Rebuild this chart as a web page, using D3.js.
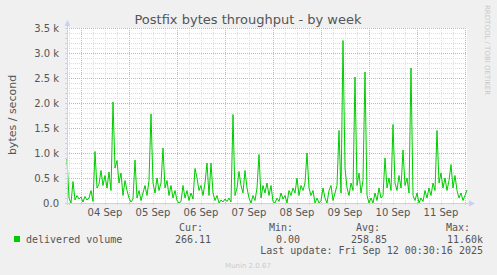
<!DOCTYPE html>
<html><head><meta charset="utf-8">
<script src="https://cdn.jsdelivr.net/npm/d3@7"></script>
<style>
body{margin:0;background:#F0F0F0;}
svg{display:block;}
</style></head>
<body>
<svg id="c" width="497" height="275"></svg>
<script>
// ---- data (hourly samples) ----
const startTime = new Date(2025, 8, 3, 17, 0, 0);
const stepHours = 1;
const deliveredVolume = [
 880,100,0,430,60,150,80,120,20,130,60,100,250,30,1030,300,380,650,350,550,
 300,620,250,2020,700,850,400,600,150,450,250,100,20,80,860,100,250,50,200,350,
 150,450,1780,400,200,500,250,400,1100,300,450,150,350,100,250,50,0,30,350,100,
 250,50,200,80,690,500,250,350,150,400,800,150,800,200,50,150,0,60,20,80,
 30,100,20,1770,150,300,630,350,200,650,300,100,0,150,50,300,970,100,350,200,
 400,150,350,30,0,100,30,200,80,150,0,250,150,300,200,500,150,350,250,400,
 1000,300,150,250,0,100,0,50,300,100,0,250,350,50,200,350,1450,200,3250,700,
 300,150,400,250,2520,350,600,200,450,2620,150,0,100,0,200,50,300,100,150,900,
 300,500,250,1570,400,250,550,300,1060,350,500,200,2700,150,50,200,0,100,30,250,
 100,300,150,400,250,1450,400,600,300,500,250,450,770,300,550,250,100,200,50,150,
 260
];
const yTicks = [0, 500, 1000, 1500, 2000, 2500, 3000, 3500];
const yTickLabels = ["0.0", "0.5 k", "1.0 k", "1.5 k", "2.0 k", "2.5 k", "3.0 k", "3.5 k"];
const legendLabels = ["Cur:", "Min:", "Avg:", "Max:"];
const legendValues = ["266.11", "0.00", "258.85", "11.60k"];
const seriesName = "delivered volume";
const titleText = "Postfix bytes throughput - by week";
const yAxisLabel = "bytes / second";
const lastUpdate = "Last update: Fri Sep 12 00:30:16 2025";

// ---- drawing ----
const svg = d3.select("#c");
const L = 67, R = 467, T = 28, B = 203;
const endTime = d3.timeHour.offset(startTime, (deliveredVolume.length - 1) * stepHours);
const x = d3.scaleTime().domain([startTime, endTime]).range([L, R]);
const y = d3.scaleLinear().domain([0, 3500]).range([B, T]);
const sans = "DejaVu Sans, sans-serif", mono = "DejaVu Sans Mono, monospace";

svg.append("rect").attr("x", L).attr("y", T).attr("width", R - L).attr("height", B - T).attr("fill", "#FFFFFF");

// minor grid
const minorY = d3.range(0, 3501, 100).filter(v => v % 500 !== 0);
svg.append("g").selectAll("line").data(minorY).join("line")
  .attr("x1", L).attr("x2", R).attr("y1", d => Math.round(y(d)) + 0.5).attr("y2", d => Math.round(y(d)) + 0.5)
  .attr("stroke", "#DDDDDD").attr("stroke-dasharray", "1,1");
const sixH = d3.timeHour.every(6).range(startTime, d3.timeMinute.offset(endTime, 1)).filter(d => d.getHours() !== 0);
svg.append("g").selectAll("line").data(sixH).join("line")
  .attr("y1", T).attr("y2", B).attr("x1", d => Math.round(x(d)) + 0.5).attr("x2", d => Math.round(x(d)) + 0.5)
  .attr("stroke", "#DDDDDD").attr("stroke-dasharray", "1,1");
// major grid
svg.append("g").selectAll("line").data(yTicks.slice(1)).join("line")
  .attr("x1", L).attr("x2", R).attr("y1", d => Math.round(y(d)) + 0.5).attr("y2", d => Math.round(y(d)) + 0.5)
  .attr("stroke", "#E8A8A8").attr("stroke-dasharray", "1,1");
const days = d3.timeDay.range(d3.timeDay.ceil(startTime), d3.timeMinute.offset(endTime, 1));
svg.append("g").selectAll("line").data(days).join("line")
  .attr("y1", T).attr("y2", B).attr("x1", d => Math.round(x(d)) + 0.5).attr("x2", d => Math.round(x(d)) + 0.5)
  .attr("stroke", "#E8A8A8").attr("stroke-dasharray", "1,1");

// axis ticks
const axisCol = "#C8D0F4";
svg.append("g").selectAll("line").data(d3.range(0, 3501, 100)).join("line")
  .attr("x1", L - 2).attr("x2", L).attr("y1", d => Math.round(y(d)) + 0.5).attr("y2", d => Math.round(y(d)) + 0.5)
  .attr("stroke", axisCol);
svg.append("g").selectAll("line").data(d3.timeHour.every(6).range(startTime, endTime)).join("line")
  .attr("y1", B).attr("y2", B + 2).attr("x1", d => Math.round(x(d)) + 0.5).attr("x2", d => Math.round(x(d)) + 0.5)
  .attr("stroke", axisCol);

// y labels
svg.append("g").selectAll("text").data(yTicks).join("text")
  .attr("x", 59).attr("y", d => y(d) + 4).attr("text-anchor", "end")
  .attr("font-family", sans).attr("font-size", 10).attr("fill", "#555")
  .text((d, i) => yTickLabels[i]);
// x labels at noon
const noons = days.map(d => d3.timeHour.offset(d, 12)).filter(d => d < endTime);
svg.append("g").selectAll("text").data(noons).join("text")
  .attr("x", d => x(d)).attr("y", 216).attr("text-anchor", "middle")
  .attr("font-family", sans).attr("font-size", 10).attr("fill", "#555")
  .text(d3.timeFormat("%d %b"));

// series line
const line = d3.line().x((d, i) => x(d3.timeHour.offset(startTime, i * stepHours))).y(d => y(d));
svg.append("path").datum(deliveredVolume).attr("d", line)
  .attr("fill", "none").attr("stroke", "#00CC00").attr("stroke-width", 1).attr("stroke-linejoin", "miter");

// axes lines with arrows
svg.append("line").attr("x1", L + 0.5).attr("x2", L + 0.5).attr("y1", B + 2).attr("y2", T - 4).attr("stroke", axisCol);
svg.append("path").attr("d", `M${L - 2.5},${T - 2} L${L + 3.5},${T - 2} L${L + 0.5},${T - 8} Z`).attr("fill", axisCol);
svg.append("line").attr("x1", L - 2).attr("x2", R + 4).attr("y1", B + 0.5).attr("y2", B + 0.5).attr("stroke", axisCol);
svg.append("path").attr("d", `M${R + 2},${B - 2.5} L${R + 2},${B + 3.5} L${R + 8},${B + 0.5} Z`).attr("fill", axisCol);

// title
svg.append("text").attr("x", 248).attr("y", 24).attr("text-anchor", "middle")
  .attr("font-family", sans).attr("font-size", 13).attr("fill", "#555").text(titleText);
// y axis label
svg.append("text").attr("transform", "translate(16,115) rotate(-90)").attr("text-anchor", "middle")
  .attr("font-family", sans).attr("font-size", 11).attr("fill", "#555").text(yAxisLabel);
// watermark
svg.append("text").attr("transform", "translate(485,5) rotate(90)").attr("text-anchor", "start")
  .attr("font-family", sans).attr("font-size", 7).attr("fill", "#C8C8C8").text("RRDTOOL / TOBI OETIKER");

// legend
svg.append("rect").attr("x", 14).attr("y", 236).attr("width", 6).attr("height", 6).attr("fill", "#00CC00");
svg.append("text").attr("x", 26).attr("y", 243).attr("font-family", mono).attr("font-size", 10).attr("fill", "#555").text(seriesName);
const headRight = [203, 293, 380, 470];
const valRight = [211, 300, 387, 483];
svg.append("g").selectAll("text").data(legendLabels).join("text")
  .attr("x", (d, i) => headRight[i]).attr("y", 231).attr("text-anchor", "end")
  .attr("font-family", mono).attr("font-size", 10).attr("fill", "#555").text(d => d);
svg.append("g").selectAll("text").data(legendValues).join("text")
  .attr("x", (d, i) => valRight[i]).attr("y", 243).attr("text-anchor", "end")
  .attr("font-family", mono).attr("font-size", 10).attr("fill", "#555").text(d => d);
svg.append("text").attr("x", 483).attr("y", 254).attr("text-anchor", "end")
  .attr("font-family", mono).attr("font-size", 10).attr("fill", "#555").text(lastUpdate);
svg.append("text").attr("x", 248).attr("y", 268).attr("text-anchor", "middle")
  .attr("font-family", sans).attr("font-size", 7).attr("fill", "#CCCCCC").text("Munin 2.0.67");
</script>
</body></html>
